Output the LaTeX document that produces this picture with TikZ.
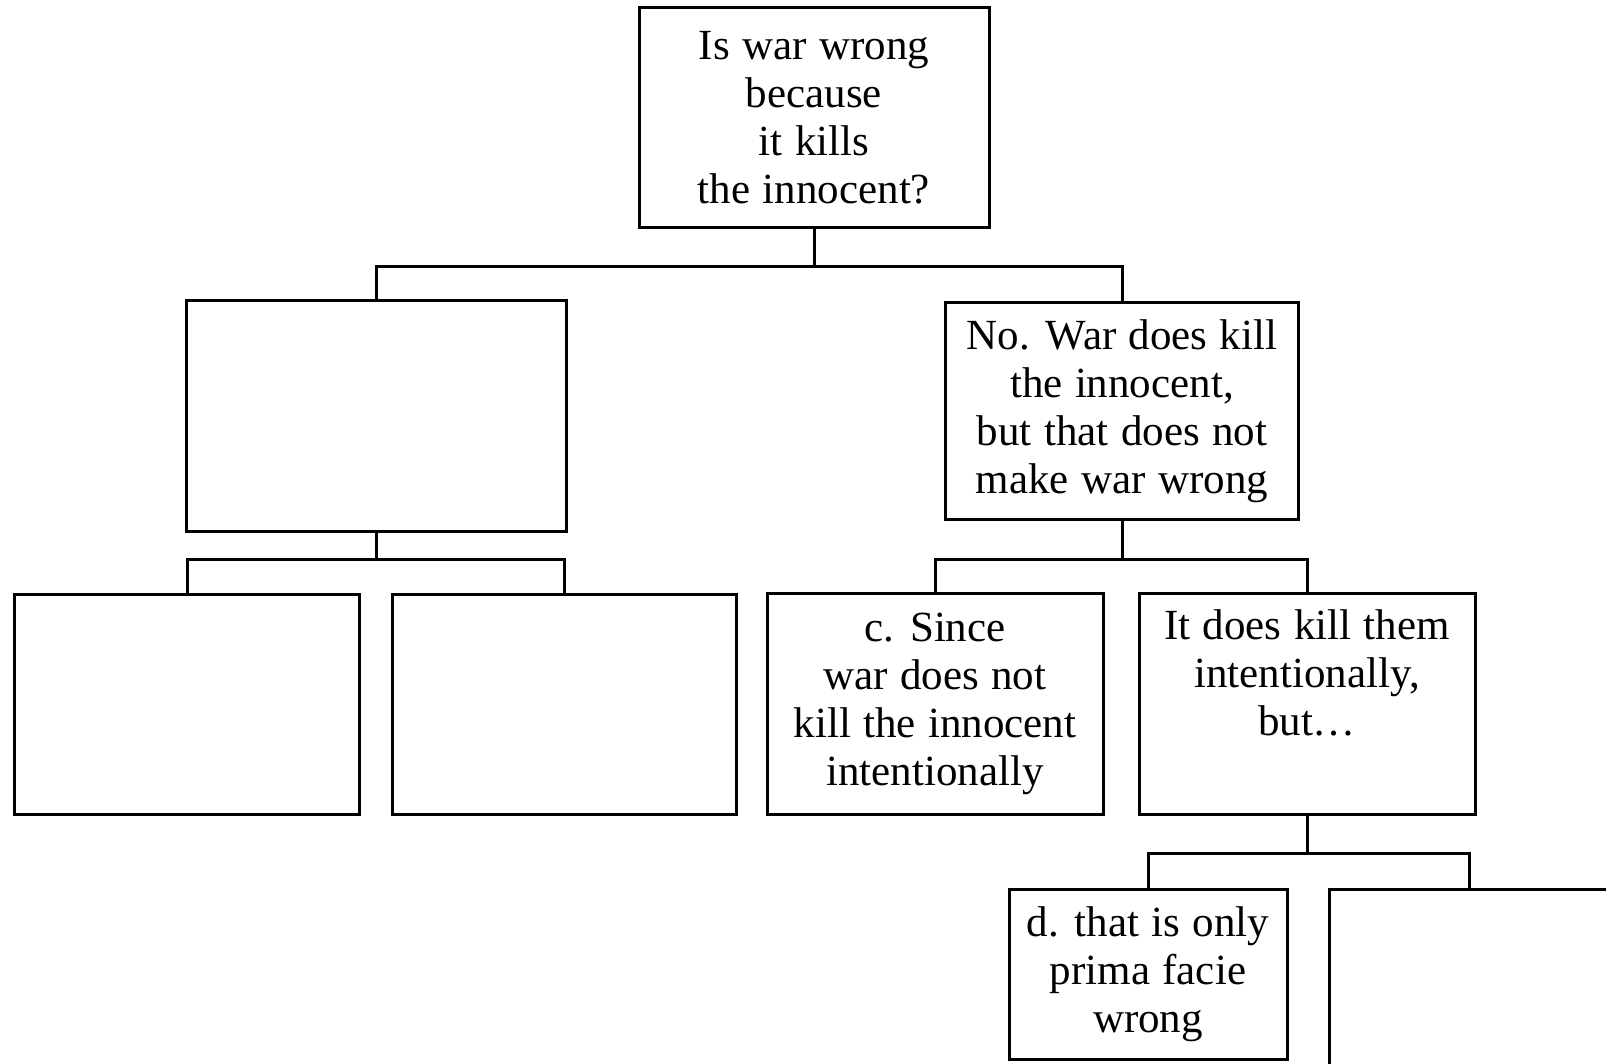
\documentclass[tikz,border=0pt]{standalone}
\usepackage{fontspec}
\setmainfont[WordSpace=1.15]{Liberation Serif}
\usepackage{tikz}
\usetikzlibrary{positioning, calc}

\tikzset{
    argbox/.style={
        draw=black,
        line width=3pt,
        fill=white,
        inner sep=0pt,
        align=center,
        font=\fontsize{43}{48}\selectfont
    },
    link/.style={
        line width=3pt
    }
}

\begin{document}
\begin{tikzpicture}[x=1pt, y=-1pt]

    \clip (0,0) rectangle (1606,1064);

    % top question
    \node[argbox, minimum width=350pt, minimum height=220pt]
        (question) at (814,118)
        {Is war wrong\\ because\\ it kills\\ the innocent?};

    % second row
    \node[argbox, minimum width=380pt, minimum height=230pt]
        (yesbox) at (376,416) {};
    \node[argbox, minimum width=353pt, minimum height=216pt]
        (nobox) at (1122,411)
        {No. War does kill\\ the innocent,\\ but that does not\\ make war wrong};

    % third row
    \node[argbox, minimum width=345pt, minimum height=220pt]
        (leftA) at (187,704) {};
    \node[argbox, minimum width=344pt, minimum height=220pt]
        (leftB) at (564,704) {};
    \node[argbox, minimum width=336pt, minimum height=221pt]
        (sincebox) at (935,704)
        {c. Since\\ war does not\\ kill the innocent\\ intentionally};
    \node[argbox, minimum width=336pt, minimum height=221pt]
        (killbox) at (1307,704)
        {It does kill them\\ intentionally,\\ but…\\ \strut};

    % fourth row
    \node[argbox, minimum width=278pt, minimum height=170pt]
        (primabox) at (1148,974)
        {d. that is only\\ prima facie\\ wrong};
    \node[argbox, minimum width=280pt, minimum height=220pt]
        (lastbox) at (1469,999) {};

    % connectors
    \draw[link] (question.south) -- +(0,37) -| (yesbox.north);
    \draw[link] (question.south) -- +(0,37) -| (nobox.north);
    \draw[link] (yesbox.south) -- +(0,27) -| (leftA.north);
    \draw[link] (yesbox.south) -- +(0,27) -| (leftB.north);
    \draw[link] (nobox.south) -- +(0,39) -| (sincebox.north);
    \draw[link] (nobox.south) -- +(0,39) -| (killbox.north);
    \draw[link] (killbox.south) -- +(0,37) -| (primabox.north);
    \draw[link] (killbox.south) -- +(0,37) -| (lastbox.north);

\end{tikzpicture}
\end{document}
